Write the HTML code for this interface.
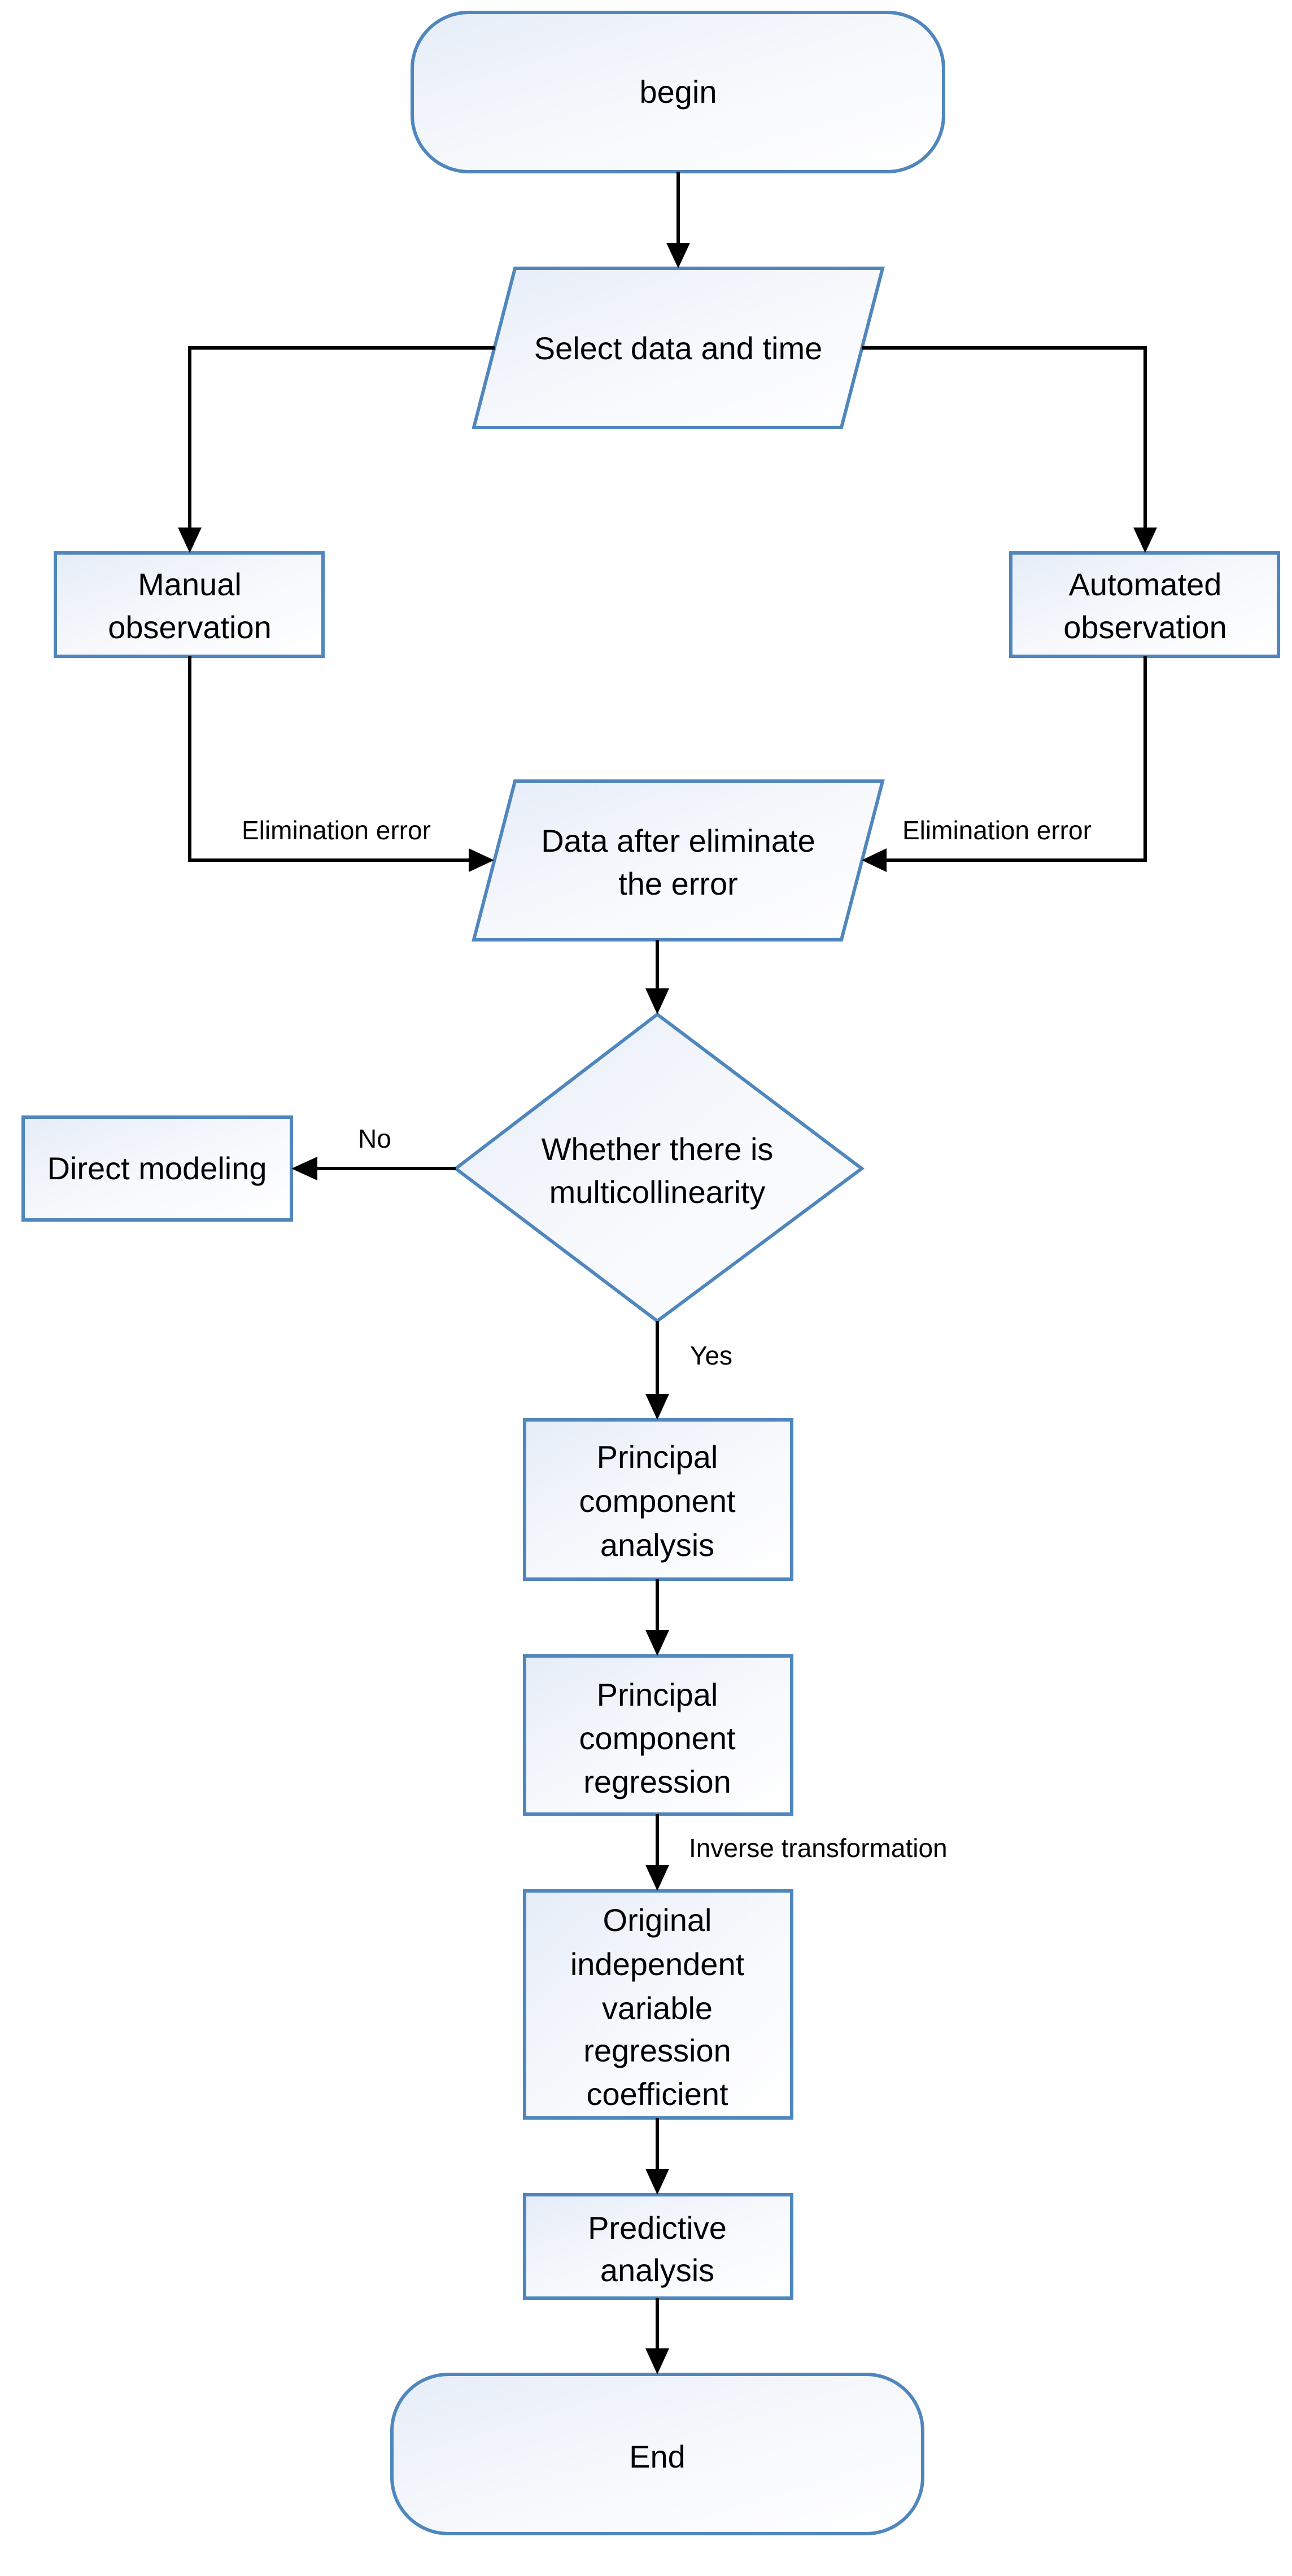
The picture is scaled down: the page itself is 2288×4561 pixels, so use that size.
<!DOCTYPE html>
<html><head><meta charset="utf-8"><style>html,body{margin:0;padding:0;background:#fff}svg{display:block}</style></head>
<body>
<svg width="2288" height="4561" viewBox="0 0 2288 4561" xmlns="http://www.w3.org/2000/svg">
<defs>
<linearGradient id="g" x1="0" y1="0" x2="1" y2="1">
<stop offset="0" stop-color="#e6edf8"/><stop offset="0.5" stop-color="#f6f8fc"/><stop offset="1" stop-color="#ffffff"/>
</linearGradient>
</defs>
<g fill="url(#g)" stroke="#4f86bd" stroke-width="6">
<rect x="730" y="22" width="941" height="282" rx="100" ry="100"/>
<polygon points="912,475 1563,475 1490,757 839,757"/>
<rect x="98" y="979" width="474" height="183"/>
<rect x="1790" y="979" width="474" height="183"/>
<polygon points="912,1383 1563,1383 1490,1664 839,1664"/>
<polygon points="1164,1796 1526,2069 1164,2339 807,2069"/>
<rect x="41" y="1978" width="475" height="182"/>
<rect x="929" y="2514" width="473" height="282"/>
<rect x="929" y="2932" width="473" height="280"/>
<rect x="929" y="3348" width="473" height="402"/>
<rect x="929" y="3886" width="473" height="183"/>
<rect x="694" y="4204" width="940" height="282" rx="100" ry="100"/>
</g>
<g stroke="#000" stroke-width="6" fill="none">
<path d="M1201,304 V430"/>
<path d="M876,616 H336 V934"/>
<path d="M1526,616 H2028 V934"/>
<path d="M336,1162 V1523 H830"/>
<path d="M2028,1162 V1523 H1570"/>
<path d="M1164,1664 V1750"/>
<path d="M807,2069 H562"/>
<path d="M1164,2339 V2468"/>
<path d="M1164,2796 V2886"/>
<path d="M1164,3212 V3302"/>
<path d="M1164,3750 V3840"/>
<path d="M1164,4069 V4158"/>
</g>
<g fill="#000">
<polygon points="1180,430 1222,430 1201,475"/>
<polygon points="315,934 357,934 336,979"/>
<polygon points="2007,934 2049,934 2028,979"/>
<polygon points="830,1502 830,1544 875,1523"/>
<polygon points="1570,1502 1570,1544 1526,1523"/>
<polygon points="1143,1750 1185,1750 1164,1796"/>
<polygon points="562,2048 562,2090 516,2069"/>
<polygon points="1143,2468 1185,2468 1164,2514"/>
<polygon points="1143,2886 1185,2886 1164,2932"/>
<polygon points="1143,3302 1185,3302 1164,3348"/>
<polygon points="1143,3840 1185,3840 1164,3886"/>
<polygon points="1143,4158 1185,4158 1164,4204"/>
</g>
<g font-family="Liberation Sans, sans-serif" font-size="56" text-anchor="middle" fill="#000">
<text x="1201" y="182">begin</text>
<text x="1201" y="636">Select data and time</text>
<text x="336" y="1054">Manual</text>
<text x="336" y="1130">observation</text>
<text x="2028" y="1054">Automated</text>
<text x="2028" y="1130">observation</text>
<text x="1201" y="1508">Data after eliminate</text>
<text x="1201" y="1584">the error</text>
<text x="1164" y="2054">Whether there is</text>
<text x="1164" y="2130">multicollinearity</text>
<text x="278" y="2088">Direct modeling</text>
<text x="1164" y="2599">Principal</text>
<text x="1164" y="2677">component</text>
<text x="1164" y="2755">analysis</text>
<text x="1164" y="3020">Principal</text>
<text x="1164" y="3097">component</text>
<text x="1164" y="3174">regression</text>
<text x="1164" y="3419">Original</text>
<text x="1164" y="3497">independent</text>
<text x="1164" y="3575">variable</text>
<text x="1164" y="3650">regression</text>
<text x="1164" y="3727">coefficient</text>
<text x="1164" y="3964">Predictive</text>
<text x="1164" y="4039">analysis</text>
<text x="1164" y="4369">End</text>
</g>
<g font-family="Liberation Sans, sans-serif" font-size="46" fill="#000">
<text x="428" y="1486">Elimination error</text>
<text x="1598" y="1486">Elimination error</text>
<text x="634" y="2032">No</text>
<text x="1222" y="2416">Yes</text>
<text x="1220" y="3288">Inverse transformation</text>
</g>
</svg>
</body></html>
